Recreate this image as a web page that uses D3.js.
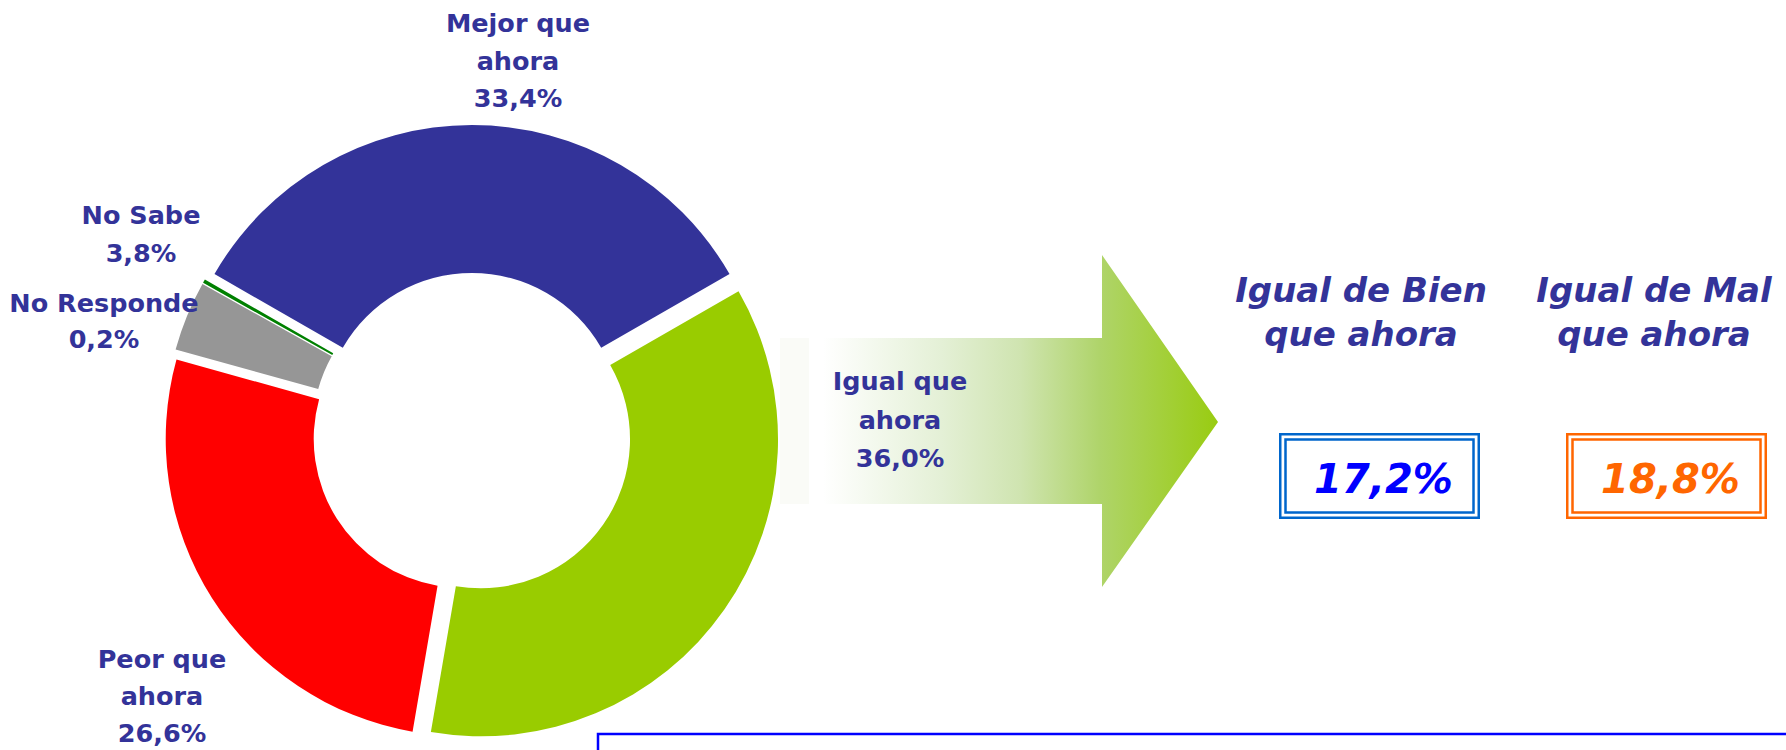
<!DOCTYPE html>
<html>
<head>
<meta charset="utf-8">
<script src="https://cdn.jsdelivr.net/npm/d3@7"></script>
<style>
  html, body { margin: 0; padding: 0; background: #fff; }
  svg { display: block; }
  text { font-family: Verdana, "DejaVu Sans", sans-serif; }
</style>
</head>
<body>
<div id="chart"></div>
<script>
// data
const categories = ["Mejor que ahora", "Igual que ahora", "Peor que ahora", "No Sabe", "No Responde"];
const labelLines = [["Mejor que", "ahora"], ["Igual que", "ahora"], ["Peor que", "ahora"], ["No Sabe"], ["No Responde"]];
const values = [33.4, 36.0, 26.6, 3.8, 0.2];
const sliceColors = ["#333399", "#99CC00", "#FF0000", "#969696", "#008000"];

const splitTitles = [["Igual de Bien", "que ahora"], ["Igual de Mal", "que ahora"]];
const splitValues = [17.2, 18.8];
const splitColors = ["#0000FF", "#FF6600"];
const splitBoxColors = ["#0066CC", "#FF6600"];

const width = 1786, height = 750;
const fmt = v => d3.format(".1f")(v).replace(".", ",") + "%";

const svg = d3.select("#chart").append("svg")
  .attr("width", width)
  .attr("height", height);

// ---- arrow with gradient (drawn first, donut overlaps its faint tail)
const defs = svg.append("defs");
const grad = defs.append("linearGradient")
  .attr("id", "arrowGrad")
  .attr("gradientUnits", "userSpaceOnUse")
  .attr("x1", 823).attr("x2", 1218).attr("y1", 0).attr("y2", 0);
[[0, "#ffffff"], [0.3, "#e4f0d6"], [0.5, "#cfe4b0"], [0.7, "#afd46a"], [1, "#99cc11"]]
  .forEach(s => grad.append("stop").attr("offset", s[0]).attr("stop-color", s[1]));

svg.append("rect")
  .attr("x", 780).attr("y", 338).attr("width", 29).attr("height", 166)
  .attr("fill", "#fafbf7");

const arrowPts = [[823, 338], [1102, 338], [1102, 255], [1218, 422], [1102, 587], [1102, 504], [823, 504]];
svg.append("path")
  .attr("d", d3.line()(arrowPts) + "Z")
  .attr("fill", "url(#arrowGrad)");

// ---- donut
const cx = 472, cy = 433, outerR = 297, innerR = 149, explode = 11;
const total = d3.sum(values);
const start = -Math.PI * values[0] / total;

const pie = d3.pie().sort(null)
  .startAngle(start)
  .endAngle(start + 2 * Math.PI);
const arc = d3.arc().innerRadius(innerR).outerRadius(outerR);

const donut = svg.append("g").attr("transform", `translate(${cx},${cy})`);
donut.selectAll("path")
  .data(pie(values))
  .enter()
  .append("path")
  .attr("d", arc)
  .attr("fill", (d, i) => sliceColors[i])
  .attr("transform", d => {
    const mid = (d.startAngle + d.endAngle) / 2;
    return `translate(${explode * Math.sin(mid)},${-explode * Math.cos(mid)})`;
  });

// ---- slice labels (placed by hand like the original)
const labelPos = [
  { x: 518, y: 32, dy: 37.7 },
  { x: 900, y: 390, dy: 38.5 },
  { x: 162, y: 668, dy: 37 },
  { x: 141, y: 224, dy: 38 },
  { x: 104, y: 312, dy: 36 }
];

categories.forEach((c, i) => {
  const lines = labelLines[i].concat([fmt(values[i])]);
  const t = svg.append("text")
    .attr("text-anchor", "middle")
    .attr("fill", "#333399")
    .style("font-size", "25.5px")
    .style("font-weight", "bold");
  lines.forEach((l, j) => {
    t.append("tspan")
      .attr("x", labelPos[i].x)
      .attr("y", labelPos[i].y + j * labelPos[i].dy)
      .text(l);
  });
});

// ---- split of "Igual que ahora"
const boxX = [1279, 1566], boxY = 433, boxW = 201, boxH = 86;
const titleX = [1361, 1654];

splitValues.forEach((v, i) => {
  const t = svg.append("text")
    .attr("text-anchor", "middle")
    .attr("fill", "#333399")
    .style("font-size", "34px")
    .style("font-weight", "bold")
    .style("font-style", "italic");
  splitTitles[i].forEach((l, j) => {
    t.append("tspan").attr("x", titleX[i]).attr("y", 302 + j * 44).text(l);
  });

  const g = svg.append("g");
  g.append("rect")
    .attr("x", boxX[i] + 1.25).attr("y", boxY + 1.25)
    .attr("width", boxW - 2.5).attr("height", boxH - 2.5)
    .attr("fill", "#fff")
    .attr("stroke", splitBoxColors[i]).attr("stroke-width", 2.5);
  g.append("rect")
    .attr("x", boxX[i] + 6.5).attr("y", boxY + 6.5)
    .attr("width", boxW - 13).attr("height", boxH - 13)
    .attr("fill", "none")
    .attr("stroke", splitBoxColors[i]).attr("stroke-width", 2.5);
  g.append("text")
    .attr("x", boxX[i] + boxW / 2 + 4)
    .attr("y", 493)
    .attr("text-anchor", "middle")
    .attr("fill", splitColors[i])
    .style("font-size", "40px")
    .style("font-weight", "bold")
    .style("font-style", "italic")
    .text(fmt(v));
});

// ---- frame at the bottom (cut by the page edge)
svg.append("rect")
  .attr("x", 598).attr("y", 734)
  .attr("width", 1300).attr("height", 100)
  .attr("fill", "none")
  .attr("stroke", "#0000FF")
  .attr("stroke-width", 2.5);
</script>
</body>
</html>
